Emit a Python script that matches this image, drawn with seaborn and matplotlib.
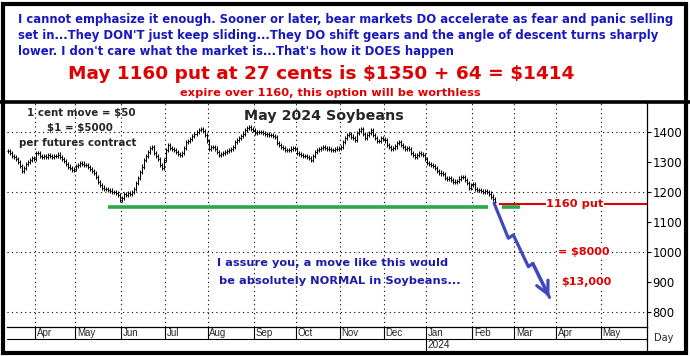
import matplotlib
matplotlib.use("Agg")
import matplotlib.pyplot as plt
import matplotlib.transforms as mtransforms
import numpy as np
import pandas as pd
import seaborn as sns

# trading-day axis, May 2024 soybeans (cents/bushel)
FIRST_DAY = "2023-03-14"
LAST_DAY = "2024-05-31"

closes = [
    1335, 1328, 1320, 1315, 1308, 1300, 1285, 1270, 1278, 1292,
    1300, 1305, 1312, 1310, 1330, 1328, 1320, 1316, 1318, 1315,
    1322, 1318, 1316, 1320, 1318, 1324, 1315, 1308, 1302, 1292,
    1284, 1280, 1273, 1276, 1287, 1290, 1296, 1294, 1290, 1288,
    1283, 1276, 1270, 1262, 1248, 1232, 1222, 1214, 1210, 1208,
    1205, 1204, 1200, 1198, 1195, 1188, 1172, 1180, 1192, 1190,
    1196, 1193, 1200, 1210, 1230, 1246, 1265, 1284, 1305, 1318,
    1333, 1345, 1348, 1328, 1318, 1310, 1290, 1280, 1305, 1340,
    1355, 1346, 1342, 1338, 1333, 1326, 1322, 1330, 1345, 1365,
    1370, 1376, 1386, 1392, 1400, 1406, 1410, 1402, 1390, 1368,
    1344, 1350, 1348, 1344, 1332, 1322, 1326, 1330, 1333, 1336,
    1339, 1342, 1350, 1365, 1372, 1378, 1385, 1394, 1405, 1412,
    1416, 1410, 1406, 1395, 1398, 1400, 1398, 1396, 1393, 1391,
    1390, 1388, 1385, 1382, 1362, 1355, 1350, 1345, 1340, 1338,
    1340, 1344, 1345, 1342, 1328, 1325, 1322, 1320, 1318, 1316,
    1312, 1306, 1318, 1332, 1338, 1343, 1346, 1350, 1347, 1344,
    1342, 1339, 1340, 1343, 1344, 1346, 1350, 1365, 1378, 1390,
    1392, 1384, 1378, 1372, 1395, 1404, 1410, 1392, 1378, 1390,
    1396, 1405, 1390, 1378, 1368, 1370, 1378, 1375, 1371, 1356,
    1348, 1344, 1347, 1351, 1362, 1366, 1357, 1350, 1344, 1345,
    1343, 1330, 1322, 1316, 1322, 1328, 1327, 1322, 1308, 1296,
    1292, 1289, 1286, 1280, 1268, 1264, 1261, 1258, 1245, 1242,
    1245, 1238, 1233, 1234, 1236, 1244, 1248, 1250, 1238, 1228,
    1212, 1222, 1226, 1210, 1206, 1207, 1203, 1200, 1201, 1199,
    1194, 1184, 1176, 1167,
]

Y_TICKS = [800, 900, 1000, 1100, 1200, 1300, 1400]
GRID_LEVELS = [800, 1000, 1200, 1400]
SUPPORT = 1150
PUT_STRIKE = 1160

# hand-drawn projection (trading-day index, price)
proj_days = [242.4, 249.5, 252.0, 259.5, 261.7, 270.0]
proj_prices = [1162, 1045, 1056, 950, 961, 848]

HEADER = [
    "I cannot emphasize it enough. Sooner or later, bear markets DO accelerate as fear and panic selling",
    "set in...They DON'T just keep sliding...They DO shift gears and the angle of descent turns sharply",
    "lower. I don't care what the market is...That's how it DOES happen",
]
PUT_LINE = "May 1160 put at 27 cents is $1350 + 64 = $1414"
PUT_NOTE = "expire over 1160, this option will be worthless"
CONTRACT_NOTE = ["1 cent move = $50", "$1 = $5000", "per futures contract"]
MOVE_NOTE = ["I assure you, a move like this would", "be absolutely NORMAL in Soybeans..."]

BLUE_TXT = "#1818c0"
RED = "#e00000"
GREEN = "#2aa84a"
ARROW = "#4048c0"

sns.set_style("white")
plt.rcParams["font.family"] = ["DejaVu Sans"]
plt.rcParams["text.parse_math"] = False

days = pd.bdate_range(FIRST_DAY, LAST_DAY)
n = len(days)

fig = plt.figure(figsize=(6.9, 3.56), dpi=100)
bg = fig.add_axes([0, 0, 1, 1], zorder=0)
bg.set_xlim(0, 690)
bg.set_ylim(356, 0)
bg.axis("off")

ax = fig.add_axes([7 / 690, 29 / 356, 639.7 / 690, 224 / 356], zorder=1)
ax.set_facecolor("none")
ax.set_xlim(-0.5, n - 0.5)
ax.set_ylim(749, 1496)

# grid
month_starts = [i for i in range(1, n) if days[i].month != days[i - 1].month]
dots = (0, (1, 3))
for m in month_starts:
    ax.axvline(m - 0.5, color="black", lw=0.8, ls=dots, zorder=1)
for g in GRID_LEVELS:
    ax.axhline(g, color="black", lw=0.8, ls=dots, zorder=1)

# price bars
idx = np.arange(len(closes))
c = np.array(closes, dtype=float)
o = np.r_[c[0], c[:-1]]
ax.vlines(idx, np.minimum(o, c) - 7, np.maximum(o, c) + 7, color="black", lw=0.75, zorder=3)
ax.hlines(o, idx - 0.5, idx, color="black", lw=0.75, zorder=3)
ax.hlines(c, idx, idx + 0.5, color="black", lw=0.75, zorder=3)

# support + put strike
ax.hlines(SUPPORT, 49.9, 239.2, color=GREEN, lw=2.6, zorder=2)
ax.hlines(SUPPORT, 246.4, 255.4, color=GREEN, lw=2.6, zorder=2)
ax.hlines(PUT_STRIKE, 245.0, n - 0.5, color=RED, lw=1.5, zorder=2)
ax.text(282.8, PUT_STRIKE, "1160 put", color=RED, fontsize=8.2, fontweight="bold",
        ha="center", va="center", zorder=4,
        bbox=dict(boxstyle="square,pad=0.05", fc="white", ec="none"))

# projected move
sns.lineplot(x=proj_days, y=proj_prices, sort=False, estimator=None,
             color=ARROW, lw=2.3, ax=ax, zorder=4)
ax.annotate("", xy=(proj_days[-1], proj_prices[-1]), xytext=(proj_days[-2], proj_prices[-2]),
            arrowprops=dict(arrowstyle="->,head_length=0.9,head_width=0.45",
                            color=ARROW, lw=2.3, shrinkA=0, shrinkB=0), zorder=4)

ax.text(274.3, 1000, "= $8000", color=RED, fontsize=8, fontweight="bold",
        ha="left", va="center", zorder=4,
        bbox=dict(boxstyle="square,pad=0.1", fc="white", ec="none"))
ax.text(275.8, 899, "$13,000", color=RED, fontsize=8, fontweight="bold",
        ha="left", va="center", zorder=4,
        bbox=dict(boxstyle="square,pad=0.1", fc="white", ec="none"))

ax.text(104.2, 961, MOVE_NOTE[0], color="#1c1ca8", fontsize=8.2, fontweight="bold",
        ha="left", va="center", zorder=4)
ax.text(105.2, 902, MOVE_NOTE[1], color="#1c1ca8", fontsize=8.2, fontweight="bold",
        ha="left", va="center", zorder=4)

ax.text(157.4, 1452, "May 2024 Soybeans", fontsize=10.3, fontweight="bold",
        ha="center", va="center", zorder=4)
for (xi, yi), line in zip([(36.4, 1462), (35.7, 1412), (34.9, 1362)], CONTRACT_NOTE):
    ax.text(xi, yi, line, fontsize=7.4, fontweight="bold", ha="center", va="center", zorder=4)

# axes styling
ax.set_xticks([])
ax.yaxis.tick_right()
ax.set_yticks(Y_TICKS)
ax.tick_params(axis="y", direction="out", length=3, width=0.8, labelsize=8.5, pad=1,
               colors="black")
for side in ["left", "top"]:
    ax.spines[side].set_visible(False)
for side in ["right", "bottom"]:
    ax.spines[side].set_linewidth(0.9)
    ax.spines[side].set_color("black")

# month strip under the chart
trans = mtransforms.blended_transform_factory(ax.transData, ax.transAxes)
row1, row2 = -12 / 224, -23 / 224
ax.plot([0, 1], [row1, row1], transform=ax.transAxes, color="black", lw=0.8, clip_on=False)
ax.plot([1, 1], [0, row2], transform=ax.transAxes, color="black", lw=0.9, clip_on=False)
for m in month_starts:
    ax.plot([m - 0.5, m - 0.5], [0, row1], transform=trans, color="black", lw=0.8, clip_on=False)
    ax.text(m + 0.3, row1 / 2, days[m].strftime("%b"), transform=trans, fontsize=7,
            ha="left", va="center", family="Liberation Sans")
    if days[m].month == 1:
        ax.plot([m - 0.5, m - 0.5], [row1, row2], transform=trans, color="black", lw=0.8,
                clip_on=False)
        ax.text(m + 0.3, (row1 + row2) / 2, str(days[m].year), transform=trans, fontsize=7.2,
                ha="left", va="center", family="Liberation Sans")
bg.text(664, 338, "Day", fontsize=7, ha="center", va="center")

# header box + frame
for y, line in zip([19, 35, 51], HEADER):
    bg.text(18, y, line, color=BLUE_TXT, fontsize=8.4, fontweight="bold", ha="left", va="center")
bg.text(321, 74, PUT_LINE, color=RED, fontsize=13.3, fontweight="bold", ha="center", va="center")
bg.text(330.5, 93, PUT_NOTE, color=RED, fontsize=8.2, fontweight="bold", ha="center", va="center")

bg.add_patch(plt.Rectangle((3, 4), 683, 349, fill=False, ec="black", lw=3))
bg.plot([0, 690], [101.5, 101.5], color="black", lw=2.6)

fig.savefig("out.png", dpi=100)
plt.close(fig)
